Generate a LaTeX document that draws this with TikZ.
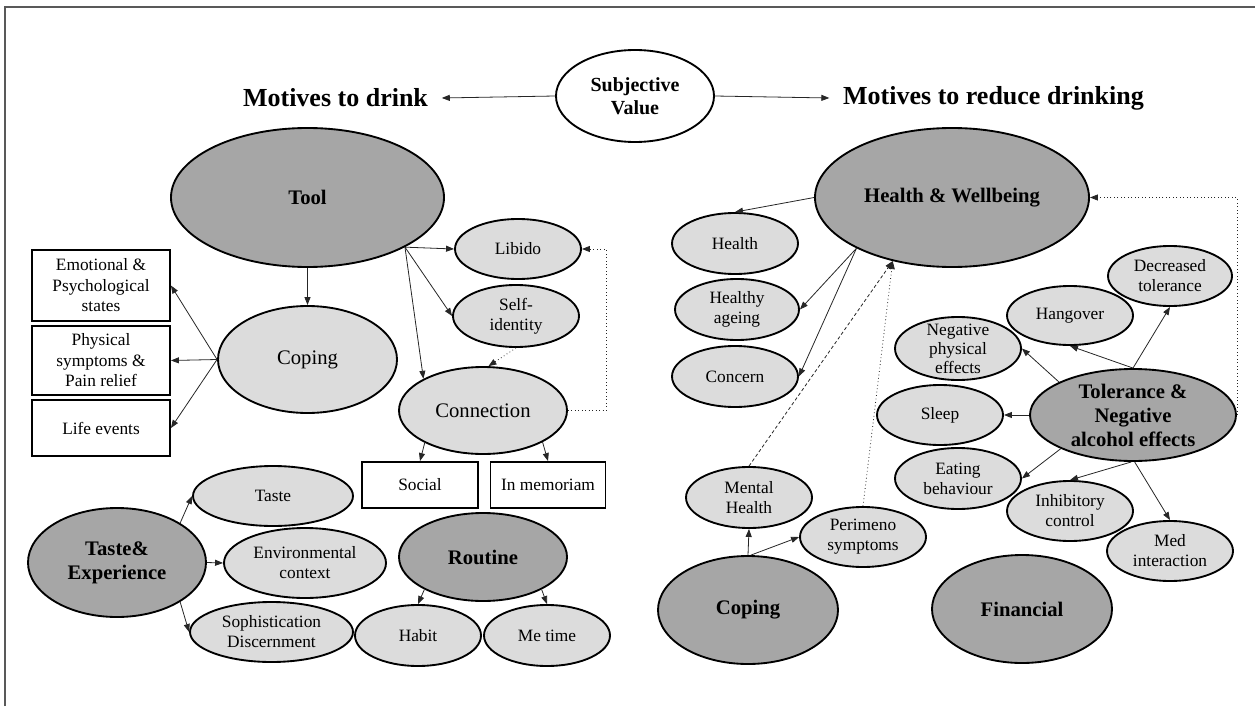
\documentclass[tikz,border=0pt]{standalone}
\usepackage{fontspec}
\setmainfont{Liberation Serif}
\usetikzlibrary{shapes.geometric,arrows.meta}

\definecolor{darkoval}{RGB}{166,166,166}
\definecolor{lightoval}{RGB}{220,220,220}

\tikzset{every picture/.style={line width=0.75pt}}
\tikzset{
  oval/.style={ellipse, draw=black, line width=1.4pt, inner sep=-4pt, align=center},
  mainoval/.style={oval, fill=darkoval, font=\fontsize{15.5}{18}\selectfont\bfseries},
  suboval/.style={oval, fill=lightoval, font=\fontsize{13}{15}\selectfont},
  midoval/.style={oval, fill=lightoval, font=\fontsize{15.5}{18}\selectfont},
  infobox/.style={rectangle, draw=black, line width=1.4pt, fill=white, inner sep=0pt, align=center, font=\fontsize{13}{15.4}\selectfont},
  heading/.style={inner sep=10pt, font=\fontsize{19.5}{22}\selectfont\bfseries},
  link/.style={draw=black!85, line width=0.6pt, -{Triangle[length=6pt,width=4.5pt]}},
  dotlink/.style={link, dotted},
  dashlink/.style={link, dash pattern=on 2.5pt off 1.8pt}
}

\begin{document}
\begin{tikzpicture}[x=0.75pt,y=0.75pt,yscale=-1,xscale=1]
\useasboundingbox (0,0) rectangle (1255,706);

%Frame
\draw [draw=black!65, line width=1pt] (5,706) -- (5,7) -- (1255,7) ;

% Text Node
\node [oval, fill=white, minimum width=118.5pt, minimum height=69pt, font=\fontsize{15}{17.25}\selectfont\bfseries] (subj) at (635,96) {Subjective\\Value};
\node [heading] (drink) at (335.5,98) {Motives to drink};
\node [heading] (reduce) at (993.5,98) {Motives to reduce drinking};

%Shape: Ellipse -- motives to drink
\node [mainoval, minimum width=204.75pt, minimum height=104.25pt] (tool) at (307.5,197.5) {Tool};
\node [suboval, minimum width=94.5pt, minimum height=45pt] (libido) at (518,249) {Libido};
\node [suboval, minimum width=94.5pt, minimum height=46.5pt] (selfid) at (516,316) {Self-\\identity};
\node [midoval, minimum width=134.25pt, minimum height=80.25pt] (copingL) at (307.5,359.5) {Coping};
\node [midoval, minimum width=126pt, minimum height=65.25pt] (conn) at (483,410.5) {Connection};
\node [mainoval, minimum width=133.5pt, minimum height=81.75pt] (tasteexp) at (117,562.5) {Taste\&\\Experience};
\node [suboval, minimum width=120pt, minimum height=45pt] (taste) at (273,496) {Taste};
\node [suboval, minimum width=121.5pt, minimum height=52.5pt] (env) at (305,563) {Environmental\\context};
\node [suboval, minimum width=122.25pt, minimum height=45pt] (soph) at (271.5,632) {Sophistication\\Discernment};
\node [mainoval, minimum width=126pt, minimum height=66pt] (routine) at (483,557) {Routine};
\node [suboval, minimum width=94.5pt, minimum height=45.75pt] (habit) at (418,635.5) {Habit};
\node [suboval, minimum width=94.5pt, minimum height=45.75pt] (metime) at (547,635.5) {Me time};

%Shape: Rectangle
\node [infobox, minimum width=103.5pt, minimum height=53.25pt] (emo) at (101,285.5) {Emotional \&\\Psychological\\states};
\node [infobox, minimum width=103.5pt, minimum height=51.75pt] (phys) at (101,360.5) {Physical\\symptoms \&\\Pain relief};
\node [infobox, minimum width=103.5pt, minimum height=42pt] (life) at (101,428) {Life events};
\node [infobox, minimum width=87pt, minimum height=34.5pt] (social) at (420,485) {Social};
\node [infobox, minimum width=86.25pt, minimum height=34.5pt] (memoriam) at (548,485) {In memoriam};

%Shape: Ellipse -- motives to reduce drinking
\node [mainoval, minimum width=205.5pt, minimum height=104.25pt] (hw) at (952,197.5) {Health \& Wellbeing};
\node [suboval, minimum width=94.5pt, minimum height=45.75pt] (health) at (735,243.5) {Health};
\node [suboval, minimum width=93pt, minimum height=45.75pt] (ageing) at (737,309.5) {Healthy\\ageing};
\node [suboval, minimum width=94.5pt, minimum height=45.75pt] (concern) at (735,376.5) {Concern};
\node [suboval, minimum width=93pt, minimum height=45pt] (dectol) at (1170,276) {Decreased\\tolerance};
\node [suboval, minimum width=94.5pt, minimum height=44.25pt] (hangover) at (1070,315.5) {Hangover};
\node [suboval, minimum width=94.5pt, minimum height=47.25pt, font=\fontsize{13}{14.25}\selectfont] (negphys) at (958,348.5) {Negative\\physical\\effects};
\node [mainoval, minimum width=154.5pt, minimum height=69pt] (tol) at (1133,415) {Tolerance \&\\Negative\\alcohol effects};
\node [suboval, minimum width=94.5pt, minimum height=45pt] (sleep) at (940,415) {Sleep};
\node [suboval, minimum width=94.5pt, minimum height=45.75pt] (eating) at (958,478.5) {Eating\\behaviour};
\node [suboval, minimum width=94.5pt, minimum height=45pt] (inhib) at (1070,511) {Inhibitory\\control};
\node [suboval, minimum width=94.5pt, minimum height=45pt] (med) at (1170,551) {Med\\interaction};
\node [suboval, minimum width=94.5pt, minimum height=45.75pt] (mental) at (749,497.5) {Mental\\Health};
\node [suboval, minimum width=94.5pt, minimum height=45pt] (peri) at (863,537) {Perimeno\\symptoms};
\node [mainoval, minimum width=135pt, minimum height=81pt] (copingR) at (748,610) {Coping};
\node [mainoval, minimum width=135pt, minimum height=81pt] (fin) at (1022,609) {Financial};

%Straight Lines
\draw [link] (subj.west) -- (drink.east) ;
\draw [link] (subj.east) -- (reduce.west) ;

\draw [link] (tool.south) -- (copingL.north) ;
\draw [link] (tool.-27) -- (libido.west) ;
\draw [link] (tool.-27) -- (selfid.west) ;
\draw [link] (tool.-27) -- (conn.152) ;
\draw [link] (copingL.west) -- (emo.east) ;
\draw [link] (copingL.west) -- (phys.east) ;
\draw [link] (copingL.west) -- (life.east) ;
\draw [dotlink] (selfid.south) -- (conn.83) ;
\draw [dotlink] (conn.east) -- ++(38,0) |- (libido.east) ;
\draw [link] (conn.-151) -- (social.north) ;
\draw [link] (conn.-28) -- (memoriam.north) ;
\draw [link] (tasteexp.32) -- (taste.west) ;
\draw [link] (tasteexp.east) -- (env.west) ;
\draw [link] (tasteexp.-32) -- (soph.west) ;
\draw [link] (routine.-151) -- (habit.north) ;
\draw [link] (routine.-29) -- (metime.north) ;

\draw [link] (hw.west) -- (health.north) ;
\draw [link] (hw.-152) -- (ageing.east) ;
\draw [link] (hw.-152) -- (concern.east) ;
\draw [dashlink] (mental.north) -- (hw.-133) ;
\draw [dotlink] (peri.north) -- (hw.-133) ;
\draw [dotlink] (tol.east) |- (hw.east) ;
\draw [link] (tol.north) -- (dectol.south) ;
\draw [link] (tol.north) -- (hangover.south) ;
\draw [link] (tol.156) -- (negphys.east) ;
\draw [link] (tol.west) -- (sleep.east) ;
\draw [link] (tol.-155) -- (eating.east) ;
\draw [link] (tol.-92) -- (inhib.north) ;
\draw [link] (tol.-88) -- (med.north) ;
\draw [link] (copingR.north) -- (mental.south) ;
\draw [link] (copingR.87) -- (peri.west) ;

\end{tikzpicture}
\end{document}
